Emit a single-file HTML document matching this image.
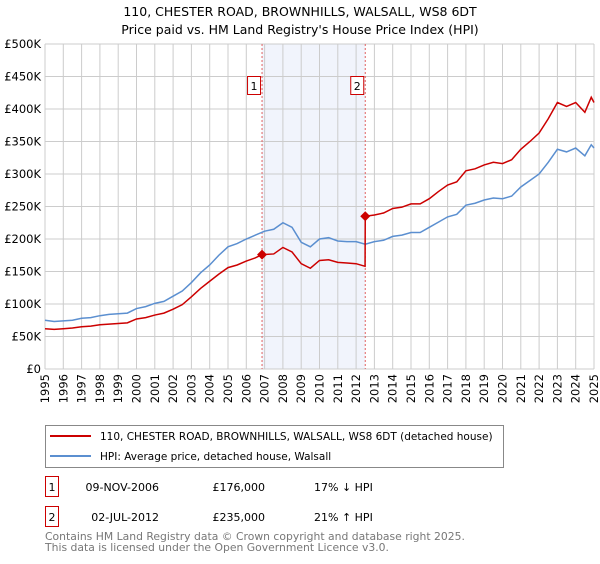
<!DOCTYPE html>
<html><head><meta charset="utf-8"><style>
body{margin:0;background:#fff;font-family:"DejaVu Sans","Liberation Sans",sans-serif;}
svg text{font-family:"DejaVu Sans","Liberation Sans",sans-serif;}
</style></head><body>
<svg id="c" width="600" height="560">
<text x="300" y="16" text-anchor="middle" font-size="12.5">110, CHESTER ROAD, BROWNHILLS, WALSALL, WS8 6DT</text>
<text x="300" y="34" text-anchor="middle" font-size="12.5">Price paid vs. HM Land Registry's House Price Index (HPI)</text>
<g id="grid"></g><g id="axes"></g><g id="series"></g>
<g>
<rect x="45.5" y="425.5" width="458" height="42" fill="#fff" stroke="#888"/>
<line x1="50" y1="436" x2="91" y2="436" stroke="#cc0000" stroke-width="2"/>
<text x="100" y="440" font-size="10.5">110, CHESTER ROAD, BROWNHILLS, WALSALL, WS8 6DT (detached house)</text>
<line x1="50" y1="456" x2="91" y2="456" stroke="#5b8fd0" stroke-width="2"/>
<text x="100" y="460" font-size="10.5">HPI: Average price, detached house, Walsall</text>
</g>
<g font-size="11">
<rect x="45.5" y="476.5" width="13" height="20" fill="#fff" stroke="#cc0000"/><text x="52" y="491" text-anchor="middle">1</text>
<text x="159" y="491" text-anchor="end">09-NOV-2006</text><text x="265" y="491" text-anchor="end">£176,000</text><text x="314" y="491">17% ↓ HPI</text>
<rect x="45.5" y="506.5" width="13" height="20" fill="#fff" stroke="#cc0000"/><text x="52" y="521" text-anchor="middle">2</text>
<text x="159" y="521" text-anchor="end">02-JUL-2012</text><text x="265" y="521" text-anchor="end">£235,000</text><text x="314" y="521">21% ↑ HPI</text>
</g>
<text x="45" y="540" font-size="10.8" fill="#777">Contains HM Land Registry data © Crown copyright and database right 2025.</text>
<text x="45" y="551" font-size="10.8" fill="#777">This data is licensed under the Open Government Licence v3.0.</text>
</svg>
<script>
const hpiDates=[1995,1995.5,1996,1996.5,1997,1997.5,1998,1998.5,1999,1999.5,2000,2000.5,2001,2001.5,2002,2002.5,2003,2003.5,2004,2004.5,2005,2005.5,2006,2006.5,2007,2007.5,2008,2008.5,2009,2009.5,2010,2010.5,2011,2011.5,2012,2012.5,2013,2013.5,2014,2014.5,2015,2015.5,2016,2016.5,2017,2017.5,2018,2018.5,2019,2019.5,2020,2020.5,2021,2021.5,2022,2022.5,2023,2023.5,2024,2024.5,2024.85,2025];
const hpiValues=[75,73,74,75,78,79,82,84,85,86,93,96,101,104,112,120,133,148,160,175,188,193,200,206,212,215,225,218,195,188,200,202,197,196,196,192,196,198,204,206,210,210,218,226,234,238,252,255,260,263,262,266,280,290,300,318,338,334,340,328,345,340];
const propDates=[1995,1995.5,1996,1996.5,1997,1997.5,1998,1998.5,1999,1999.5,2000,2000.5,2001,2001.5,2002,2002.5,2003,2003.5,2004,2004.5,2005,2005.5,2006,2006.5,2006.86,2007.5,2008,2008.5,2009,2009.5,2010,2010.5,2011,2011.5,2012,2012.49,2012.5,2013,2013.5,2014,2014.5,2015,2015.5,2016,2016.5,2017,2017.5,2018,2018.5,2019,2019.5,2020,2020.5,2021,2021.5,2022,2022.5,2023,2023.5,2024,2024.5,2024.85,2025];
const propValues=[62,61,62,63,65,66,68,69,70,71,77,79,83,86,92,99,111,124,135,146,156,160,166,171,176,177,187,180,162,155,167,168,164,163,162,158,235,237,240,247,249,254,254,262,273,283,288,305,308,314,318,316,322,338,350,363,385,410,404,410,395,418,410];
const saleDates=[2006.86,2012.5];
const saleValues=[176,235];
const yTicks=[0,50,100,150,200,250,300,350,400,450,500];
const xTicks=[1995,1996,1997,1998,1999,2000,2001,2002,2003,2004,2005,2006,2007,2008,2009,2010,2011,2012,2013,2014,2015,2016,2017,2018,2019,2020,2021,2022,2023,2024,2025];
const NS='http://www.w3.org/2000/svg';
const X0=45,X1=594,Y0=369,Y1=44;
const x=d=>X0+(d-1995)/30*(X1-X0);
const y=v=>Y0-v/500*(Y0-Y1);
function mk(t,a,p){const e=document.createElementNS(NS,t);for(const k in a)e.setAttribute(k,a[k]);p.appendChild(e);return e;}
const grid=document.getElementById('grid'),axes=document.getElementById('axes'),ser=document.getElementById('series');
const shade=mk('rect',{x:x(saleDates[0]),y:Y1,width:x(saleDates[1])-x(saleDates[0]),height:Y0-Y1,fill:'#f1f4fc'},grid);


yTicks.forEach(v=>{
 const l=mk('line',{x1:X0,x2:X1,y1:y(v),y2:y(v),stroke:'#cccccc'},grid);
 
 
 const t=mk('text',{x:X0-4,y:y(v)+4,'text-anchor':'end','font-size':'11.5'},axes);
 
 
 t.textContent='£'+(v?v+'K':'0');
});
xTicks.forEach(d=>{
 const l=mk('line',{x1:x(d),x2:x(d),y1:Y1,y2:Y0,stroke:'#cccccc'},grid);
 
 
 const t=mk('text',{x:0,y:0,'text-anchor':'end','font-size':'11.5',transform:`translate(${x(d)+4},${Y0+5}) rotate(-90)`},axes);
 
 
 t.textContent=d;
});
saleDates.forEach((d,i)=>{
 const l=mk('line',{x1:x(d),x2:x(d),y1:Y1,y2:Y0,stroke:'#e06060','stroke-dasharray':'2,2'},grid);
 
 
 const r=mk('rect',{x:x(d)-14.5,y:76.5,width:13,height:18,fill:'#fff',stroke:'#cc0000'},grid);
 
 
 const t=mk('text',{x:x(d)-8,y:90,'text-anchor':'middle','font-size':'11'},grid);
 
 
 t.textContent=i+1;
});
const hp=mk('polyline',{points:hpiDates.map((d,i)=>x(d)+','+y(hpiValues[i])).join(' '),fill:'none',stroke:'#5b8fd0','stroke-width':1.5},ser);


const pp=mk('polyline',{points:propDates.map((d,i)=>x(d)+','+y(propValues[i])).join(' '),fill:'none',stroke:'#cc0000','stroke-width':1.5},ser);


saleDates.forEach((d,i)=>{
 const cx=x(d),cy=y(saleValues[i]);
 const p=mk('polygon',{points:`${cx},${cy-5} ${cx+5},${cy} ${cx},${cy+5} ${cx-5},${cy}`,fill:'#cc0000'},ser);
 
 
});
</script>
</body></html>
